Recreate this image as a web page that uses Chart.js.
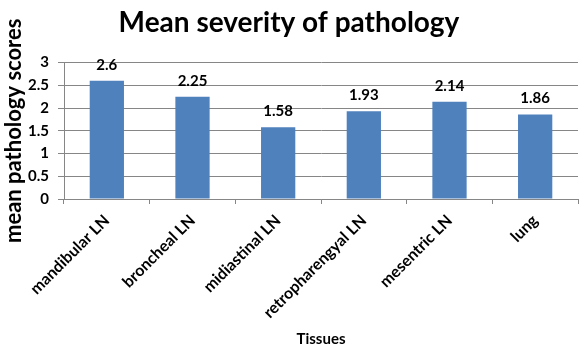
<!DOCTYPE html>
<html><head><meta charset="utf-8">
<script src="https://cdn.jsdelivr.net/npm/chart.js@4/dist/chart.umd.min.js"></script>
<style>html,body{margin:0;padding:0;background:#fff}#wrap{width:580px;height:350px}</style>
</head><body><div id="wrap"><canvas id="c" width="580" height="350"></canvas></div>
<script>
const categories = ["mandibular LN","broncheal LN","midiastinal LN","retropharengyal LN","mesentric LN","lung"];
const meanScores = [2.6, 2.25, 1.58, 1.93, 2.14, 1.86];
const valueLabels = ["2.6","2.25","1.58","1.93","2.14","1.86"];
const yTicks = [0, 0.5, 1, 1.5, 2, 2.5, 3];

const FONT = "Lato, 'Open Sans', sans-serif";

const labelPlugin = {
  id: 'valueLabels',
  afterDatasetsDraw(chart) {
    const ctx = chart.ctx;
    const meta = chart.getDatasetMeta(0);
    ctx.save();
    ctx.font = "bold 15px " + FONT;
    ctx.fillStyle = "#000";
    ctx.textAlign = "center";
    ctx.textBaseline = "alphabetic";
    meta.data.forEach((bar, i) => {
      ctx.fillText(valueLabels[i], bar.x, bar.y - 11);
    });
    ctx.restore();
  }
};

new Chart(document.getElementById('c'), {
  type: 'bar',
  data: {
    labels: categories,
    datasets: [{
      data: meanScores,
      backgroundColor: '#4F81BD',
      borderWidth: 0,
      categoryPercentage: 1,
      barPercentage: 0.4
    }]
  },
  options: {
    responsive: false,
    animation: false,
    layout: { padding: { left: 0, right: 2, top: 0, bottom: 0 } },
    plugins: {
      legend: { display: false },
      tooltip: { enabled: false },
      title: {
        display: true,
        text: 'Mean severity of pathology',
        color: '#000',
        font: { family: FONT, size: 28, weight: 'bold', lineHeight: 1.2 },
        padding: { top: 6, bottom: 23 }
      }
    },
    scales: {
      x: {
        afterFit(s) { s.height = 151; },
        grid: { offset: true, drawOnChartArea: false, drawTicks: true, tickLength: 5, color: '#868686' },
        border: { color: '#868686' },
        ticks: {
          color: '#000', minRotation: 45, maxRotation: 45, autoSkip: false, padding: 7,
          font: { family: FONT, size: 16, weight: 'bold' }
        },
        title: {
          display: true, text: 'Tissues', color: '#000',
          font: { family: FONT, size: 15, weight: 'bold' },
          padding: { top: 0, bottom: 2 }
        }
      },
      y: {
        min: 0, max: 3,
        afterFit(s) { s.width = 64; },
        afterBuildTicks(s) { s.ticks = yTicks.map(v => ({ value: v })); },
        grid: { color: '#868686', tickLength: 6 },
        border: { color: '#868686' },
        ticks: {
          color: '#000', padding: 9,
          font: { family: FONT, size: 15, weight: 'bold' },
          callback: v => String(v)
        },
        title: {
          display: true, text: 'mean pathology scores', color: '#000',
          font: { family: FONT, size: 22, weight: 'bold', lineHeight: 1.2 },
          padding: { top: 1, bottom: 0 }
        }
      }
    }
  },
  plugins: [labelPlugin]
});
</script></body></html>
